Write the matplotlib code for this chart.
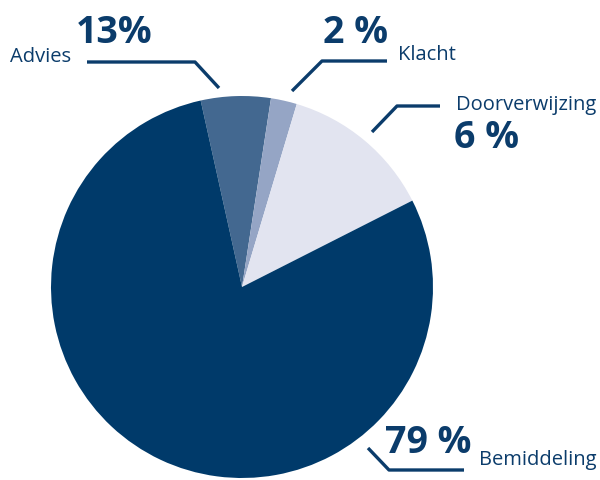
import matplotlib.pyplot as plt

# slice sizes (clockwise from top-left)
categories = ["Advies", "Klacht", "Doorverwijzing", "Bemiddeling"]
shares = [5.9, 2.2, 12.9, 79.0]
# percentage texts as printed on the chart
pct_labels = ["13%", "2 %", "6 %", "79 %"]
colors = ["#436890", "#95a5c5", "#e2e4f0", "#003a6a"]

TEXT = "#0b3c6b"
LINE = "#0b3c6b"
FONT = "Open Sans"

fig = plt.figure(figsize=(6, 4.8), dpi=100)
ax = fig.add_axes([0, 0, 1, 1])

ax.pie(shares, colors=colors, startangle=102.5, counterclock=False,
       center=(242, 193), radius=191, frame=True,
       wedgeprops=dict(linewidth=0))
ax.set_xlim(0, 600)
ax.set_ylim(0, 480)
ax.set_aspect("equal")
ax.axis("off")

# leader lines (pixel layout, y measured from bottom)
leaders = [
    [(87, 418), (195, 418), (219, 392)],
    [(292, 389), (322, 419), (387, 419)],
    [(372, 348), (397, 374), (440, 374)],
    [(368, 32), (389, 10), (464, 10)],
]
for pts in leaders:
    xs, ys = zip(*pts)
    ax.plot(xs, ys, color=LINE, lw=2.4, solid_capstyle="butt")

# category names
name_pos = [(10, 418), (398, 420), (456, 370), (479, 15)]
for name, (x, y) in zip(categories, name_pos):
    ax.text(x, y, name, fontsize=14.5, color=TEXT, family=FONT,
            ha="left", va="baseline")

# percentages
pct_pos = [(76, 437), (323, 437), (454, 332), (385, 27)]
for lab, (x, y) in zip(pct_labels, pct_pos):
    ax.text(x, y, lab, fontsize=27, fontweight="bold", color=TEXT, family=FONT,
            ha="left", va="baseline")

fig.savefig("out.png", dpi=100)
